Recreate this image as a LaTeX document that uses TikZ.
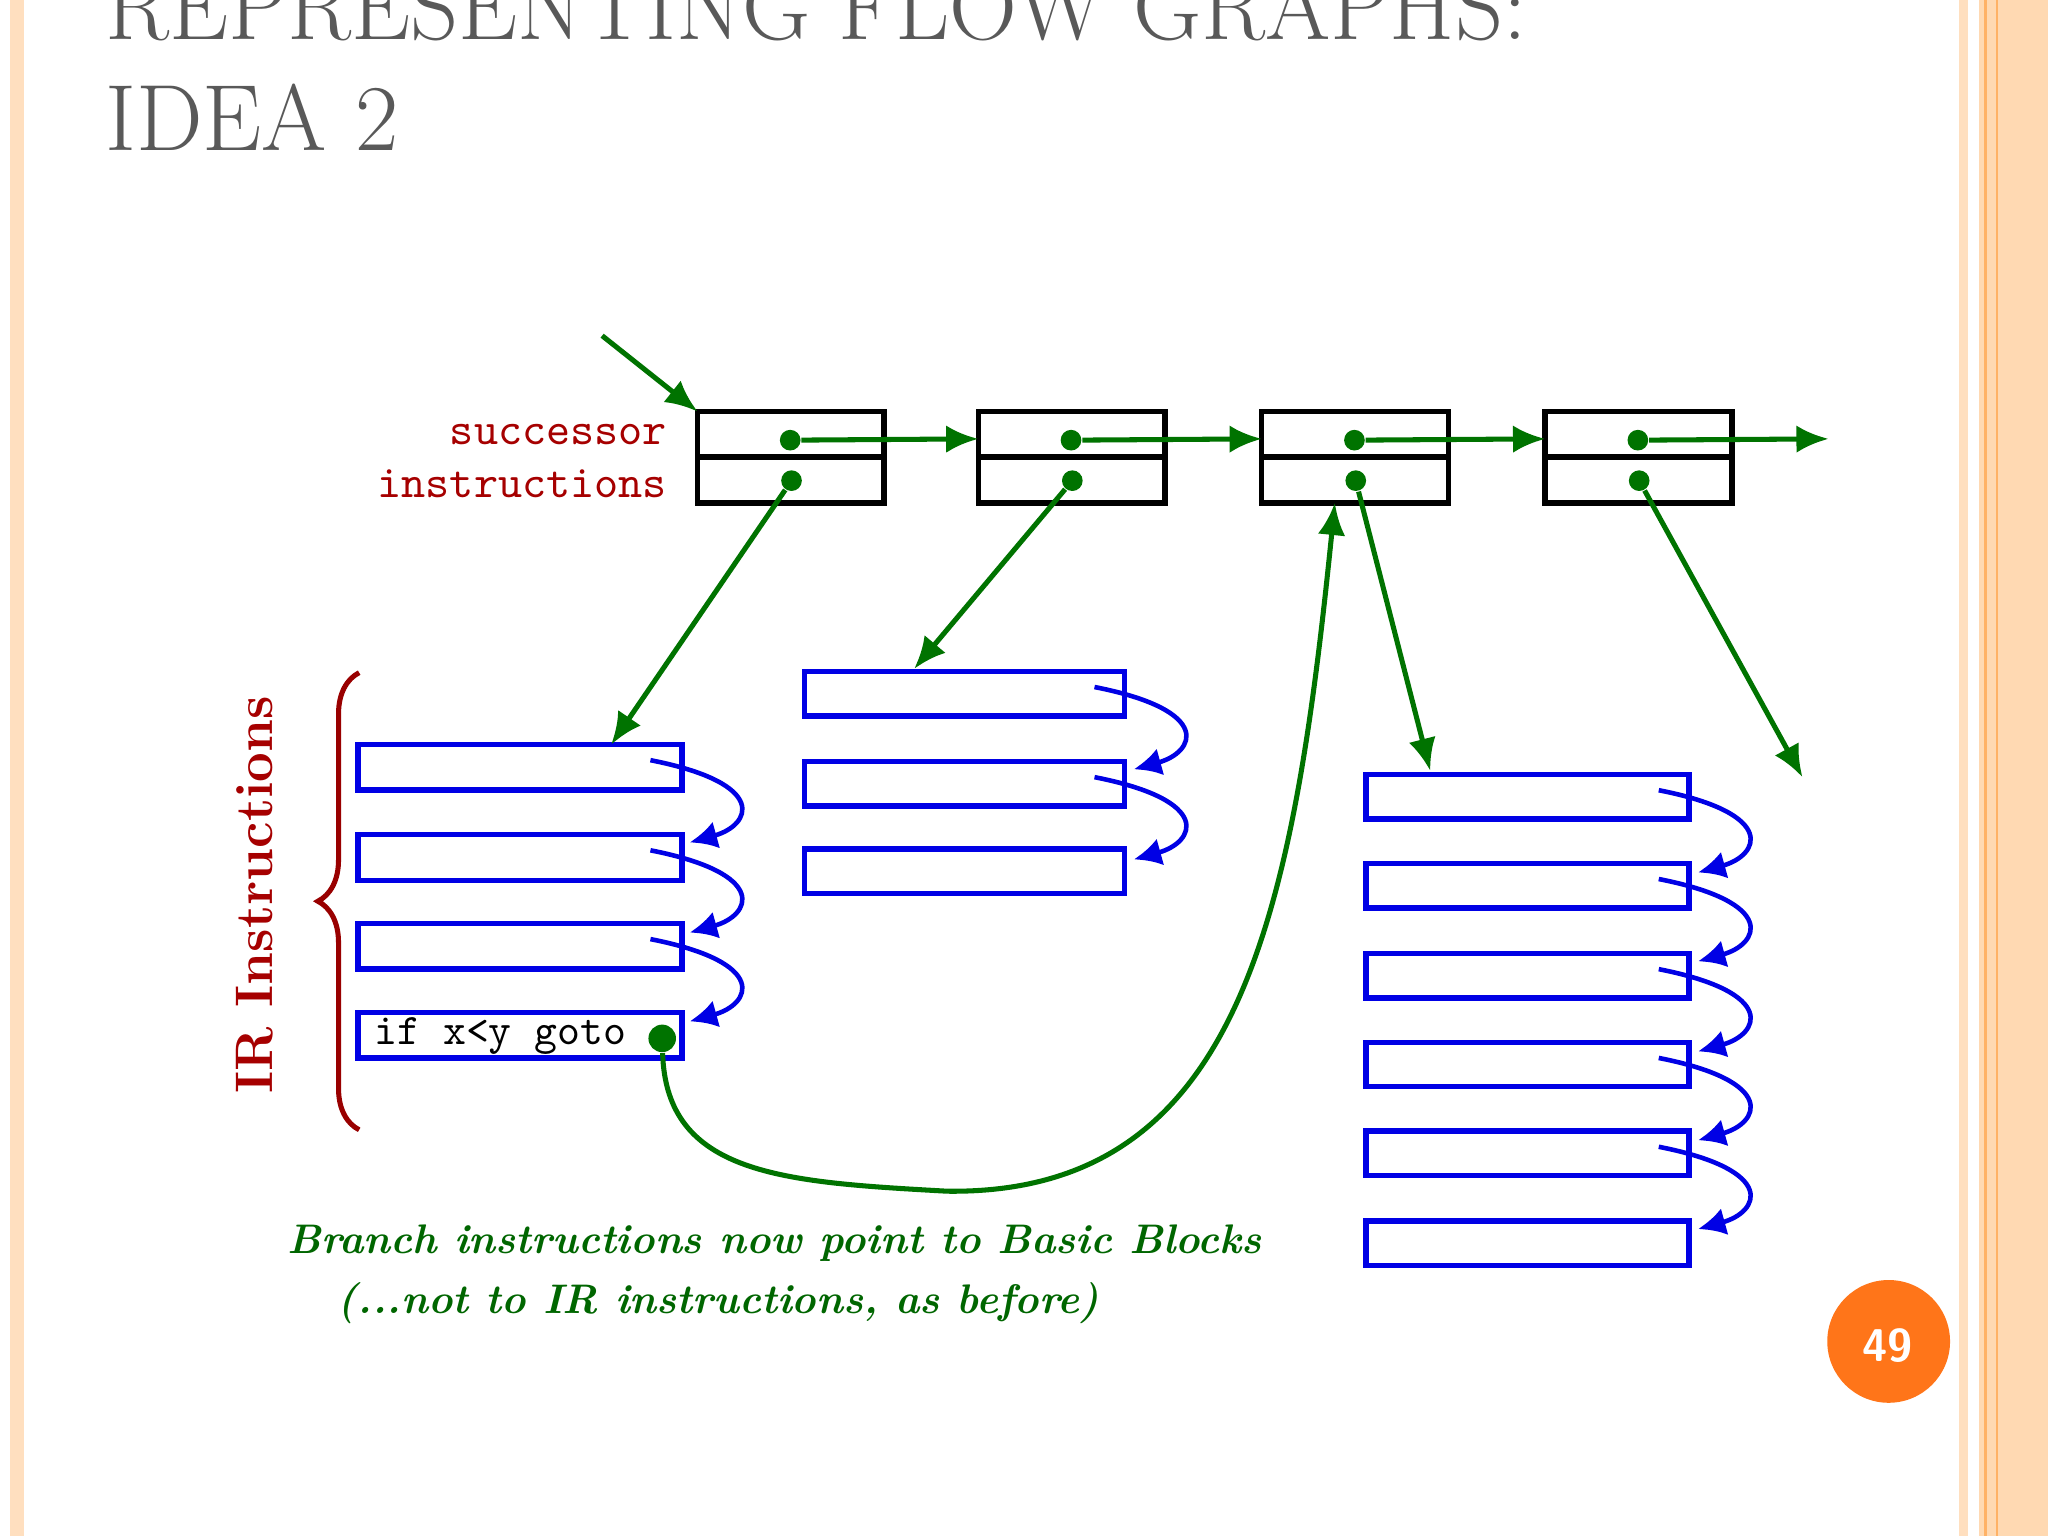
\documentclass[tikz,border=0pt]{standalone}
\usepackage{tikz}
\usetikzlibrary{arrows.meta,decorations.pathreplacing}
\begin{document}
\begin{tikzpicture}[x=0.1mm,y=-0.1mm,
  grn/.style={draw=green!45!black,line width=1.1pt},
  garr/.style={grn,-{Latex[length=7pt,width=6pt]}},
  dot/.style={circle,fill=green!45!black,inner sep=0pt,minimum size=4.5pt},
  sbox/.style={draw=black,line width=1.2pt},
  ir/.style={draw=blue!90!black,line width=1.2pt},
  barr/.style={draw=blue!90!black,line width=1pt,-{Latex[length=6pt,width=6pt]}},
  lab/.style={text=red!65!black,font=\ttfamily\fontsize{10}{12}\selectfont,anchor=east}]
\useasboundingbox (0,0) rectangle (1568,1176);
\fill[white] (0,0) rectangle (1568,1176);
% frame strips
\fill[orange!25] (8,0) rectangle (18,1176);
\fill[orange!25] (1500,0) rectangle (1507,1176);
\fill[orange!30] (1515,0) rectangle (1568,1176);
\draw[orange!60,line width=0.6pt] (1520,0) -- (1520,1176) (1529,0)--(1529,1176);
% title
\node[anchor=base west,text=black!65,font=\fontsize{20.5}{25}\selectfont,inner sep=0] (t1) at (80,30) {REPRESENTING FLOW GRAPHS:};
\node[anchor=base west,text=black!65,font=\fontsize{20.5}{25}\selectfont,inner sep=0] (t2) at (80,115) {IDEA 2};
% successor boxes
\foreach \i/\x in {1/534,2/749,3/966,4/1183}{
  \draw[sbox] (\x,315) rectangle ++(143,70);
  \draw[sbox] (\x,350) -- ++(143,0);
  \node[dot] (s\i) at (\x+71,337) {};
  \node[dot] (p\i) at (\x+72,368) {};
}
\node[lab] (ls) at (523,333) {successor};
\node[lab] (li) at (523,370) {instructions};
\coordinate (e0) at (461,257);
\coordinate (b2t) at (749,336);
\coordinate (b3t) at (966,336);
\coordinate (b4t) at (1183,336);
\coordinate (end) at (1400,336);
\draw[garr] (e0) -- (534,315);
\draw[garr] (s1) -- (b2t);
\draw[garr] (s2) -- (b3t);
\draw[garr] (s3) -- (b4t);
\draw[garr] (s4) -- (end);
% instruction blocks
\foreach \y in {570,639,707,775}{\draw[ir] (274,\y) rectangle (522,\y+35);}
\foreach \y in {514,583,650}{\draw[ir] (616,\y) rectangle (861,\y+34);}
\foreach \y in {593,661,730,798,866,935}{\draw[ir] (1046,\y) rectangle (1293,\y+34);}
\foreach \y in {570,639,707}{\draw[barr] (498,\y+12) .. controls (590,\y+30) and (575,\y+62) .. (528,\y+75);}
\foreach \y in {514,583}{\draw[barr] (838,\y+12) .. controls (930,\y+30) and (915,\y+62) .. (868,\y+75);}
\foreach \y in {593,661,730,798,866}{\draw[barr] (1270,\y+12) .. controls (1362,\y+30) and (1347,\y+62) .. (1300,\y+75);}
\node[font=\ttfamily\fontsize{9.5}{11}\selectfont,anchor=west,inner sep=0] (ifx) at (286,793) {if x<y goto};
\node[dot,minimum size=6pt] (bd) at (507,795) {};
\draw[garr] (p1) -- (468,570);
\draw[garr] (p2) -- (700,512);
\draw[garr] (p3) -- (1095,590);
\draw[garr] (p4) -- (1380,595);
\draw[garr] (bd) .. controls (510,900) and (600,905) .. (725,912) .. controls (950,915) and (990,700) .. (1022,385);
% brace
\draw[red!60!black,line width=1.1pt,decorate,decoration={brace,amplitude=9pt}] (275,865) -- (275,515);
\node[rotate=90,text=red!65!black,font=\fontsize{11.5}{14}\selectfont\bfseries] (irl) at (195,685) {IR Instructions};
\node[text=green!40!black,font=\fontsize{9}{12}\selectfont\bfseries\itshape] (c1) at (593,952) {Branch instructions now point to Basic Blocks};
\node[text=green!40!black,font=\fontsize{9}{12}\selectfont\bfseries\itshape] (c2) at (550,998) {(...not to IR instructions, as before)};
% page number
\fill[orange!80!red!90] (1446,1027) circle (47);
\node[text=white,font=\sffamily\bfseries] (pn) at (1445,1030) {49};
\end{tikzpicture}
\end{document}
